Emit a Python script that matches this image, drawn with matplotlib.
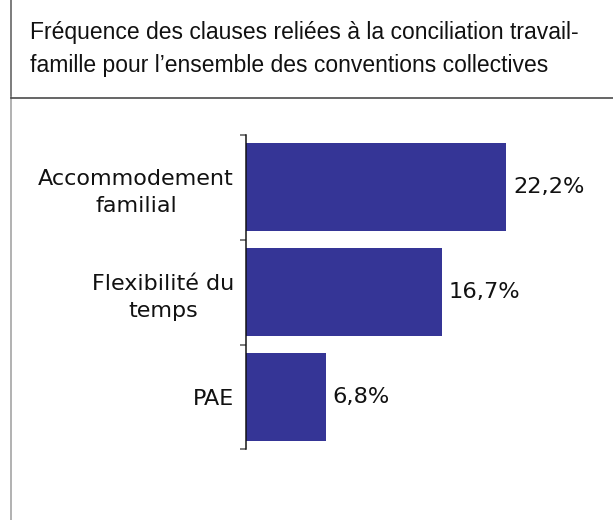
import matplotlib
matplotlib.use("Agg")
import matplotlib.pyplot as plt
from matplotlib.lines import Line2D

categories = ["Accommodement\nfamilial", "Flexibilité du\ntemps", "PAE"]
values = [22.2, 16.7, 6.8]
value_labels = ["22,2%", "16,7%", "6,8%"]
title_lines = ["Fréquence des clauses reliées à la conciliation travail-",
               "famille pour l’ensemble des conventions collectives"]

W, H = 613, 520
DPI = 100
fig = plt.figure(figsize=(W / DPI, H / DPI), dpi=DPI)
fig.patch.set_facecolor("white")

def px(v):
    return v * 72.0 / DPI

# frame lines
fig.add_artist(Line2D([11 / W, 11 / W], [1, 1 - 97 / H], transform=fig.transFigure,
                      color="#555555", lw=px(1.5)))
fig.add_artist(Line2D([11 / W, 11 / W], [1 - 97 / H, 0], transform=fig.transFigure,
                      color="#9a9a9a", lw=px(1.5)))
fig.add_artist(Line2D([11 / W, 1], [1 - 97.5 / H, 1 - 97.5 / H], transform=fig.transFigure,
                      color="#444444", lw=px(1.6)))

# title
for i, t in enumerate(title_lines):
    fig.text(30 / W, 1 - (39 + 33 * i) / H, t, fontsize=px(22.9),
             family="Liberation Sans", color="#111111", ha="left", va="baseline")

# axes
left, right = 246, 598
top, bottom = 135, 449.3
ax = fig.add_axes([left / W, 1 - bottom / H, (right - left) / W, (bottom - top) / H])
pos = list(range(len(categories)))
ax.barh(pos, values, height=0.84, color="#353596", edgecolor="none")
ax.set_xlim(0, 30)
ax.set_ylim(len(categories) - 0.5, -0.5)

for s in ["top", "right", "bottom"]:
    ax.spines[s].set_visible(False)
ax.spines["left"].set_color("#111111")
ax.spines["left"].set_linewidth(px(1.5))
ax.set_xticks([])

ax.set_yticks([p - 0.5 for p in pos] + [len(categories) - 0.5])
ax.set_yticklabels([])
ax.tick_params(axis="y", which="major", length=px(6), width=px(1.5), color="#555555")
ax.set_yticks(pos, minor=True)
ax.set_yticklabels(categories, minor=True, fontsize=px(22.3), family="DejaVu Sans",
                   color="#111111", multialignment="center", linespacing=1.42)
ax.tick_params(axis="y", which="minor", length=0, pad=px(12))

for p, v, lab in zip(pos, values, value_labels):
    ax.annotate(lab, (v, p), xytext=(px(6.5), 0), textcoords="offset points",
                va="center", ha="left", fontsize=px(22.5), family="DejaVu Sans",
                color="#111111")

fig.savefig("out.png", dpi=DPI, facecolor="white")
